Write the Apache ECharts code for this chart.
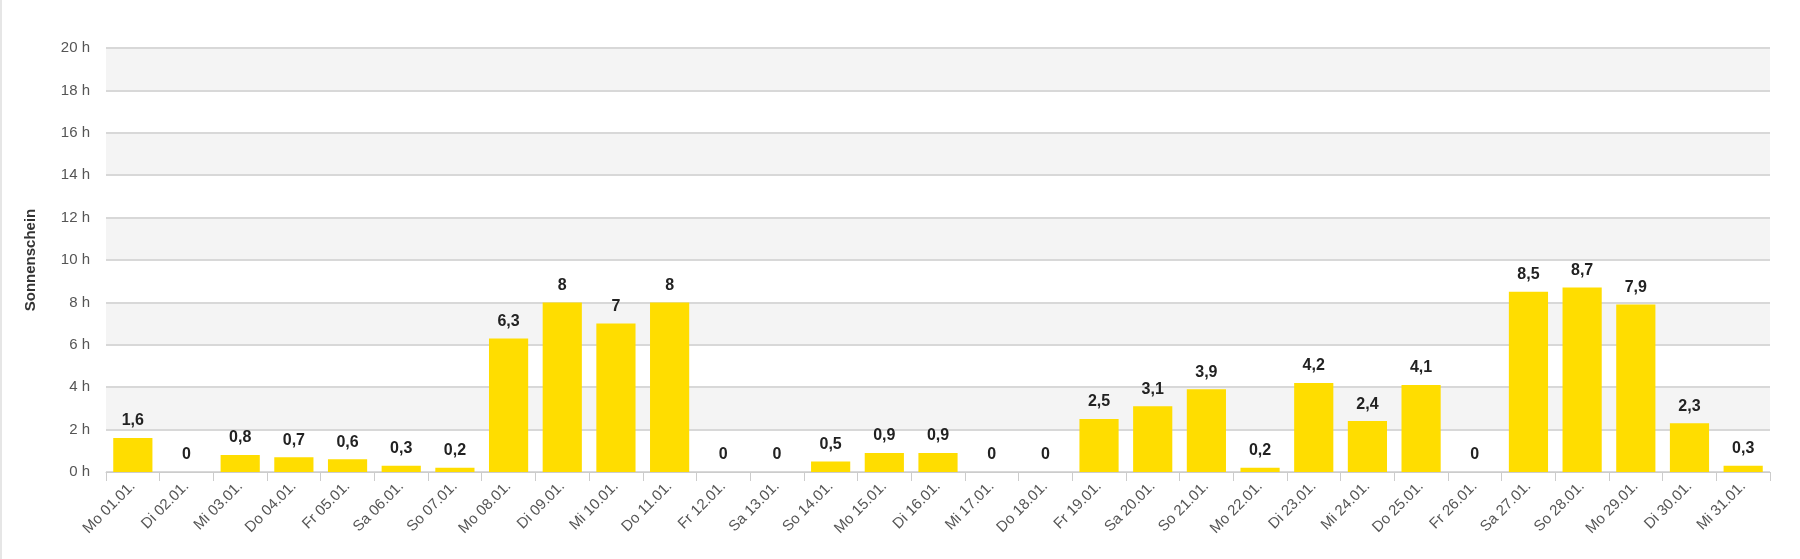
<!DOCTYPE html><html><head><meta charset="utf-8"><script src="https://cdn.jsdelivr.net/npm/echarts@6/dist/echarts.min.js"></script>
<style>body{margin:0;background:#fff}#c{width:1800px;height:559px;border-left:2px solid #e6e6e6;box-sizing:border-box}</style></head><body><div id="c"></div><script>
const categories=["Mo 01.01.","Di 02.01.","Mi 03.01.","Do 04.01.","Fr 05.01.","Sa 06.01.","So 07.01.","Mo 08.01.","Di 09.01.","Mi 10.01.","Do 11.01.","Fr 12.01.","Sa 13.01.","So 14.01.","Mo 15.01.","Di 16.01.","Mi 17.01.","Do 18.01.","Fr 19.01.","Sa 20.01.","So 21.01.","Mo 22.01.","Di 23.01.","Mi 24.01.","Do 25.01.","Fr 26.01.","Sa 27.01.","So 28.01.","Mo 29.01.","Di 30.01.","Mi 31.01."];
const sunshine=[1.6,0,0.8,0.7,0.6,0.3,0.2,6.3,8,7,8,0,0,0.5,0.9,0.9,0,0,2.5,3.1,3.9,0.2,4.2,2.4,4.1,0,8.5,8.7,7.9,2.3,0.3];
const yTicks={min:0,max:20,interval:2};
const ch=echarts.init(document.getElementById('c'));
ch.setOption({animation:false,
grid:{left:104,right:30,top:48,bottom:87},
xAxis:{type:'category',data:categories,axisTick:{show:true,alignWithLabel:false,length:9,lineStyle:{color:'#ccc'}},axisLine:{lineStyle:{color:'#ccc'}},
 axisLabel:{rotate:45,color:'#555',fontSize:15,fontFamily:'Arial, Liberation Sans',interval:0,margin:12}},
yAxis:{type:'value',min:yTicks.min,max:yTicks.max,interval:yTicks.interval,name:'Sonnenschein',nameLocation:'middle',nameGap:68,nameRotate:90,
 nameTextStyle:{fontWeight:'bold',fontSize:15,color:'#333',fontFamily:'Arial, Liberation Sans'},
 axisLabel:{formatter:'{value} h',color:'#555',fontSize:15,fontFamily:'Arial, Liberation Sans',margin:16},
 splitLine:{lineStyle:{color:'#d8d8d8',width:2}},splitArea:{show:true,areaStyle:{color:['#ffffff','#f4f4f4']}}},
series:[{type:'bar',data:sunshine,barCategoryGap:'27%',itemStyle:{color:'#ffdd00'},
 label:{show:true,position:'top',fontWeight:'bold',fontSize:16,color:'#222',fontFamily:'Arial, Liberation Sans',
 formatter:p=>String(p.value).replace('.',','),distance:9}}]});
</script></body></html>
